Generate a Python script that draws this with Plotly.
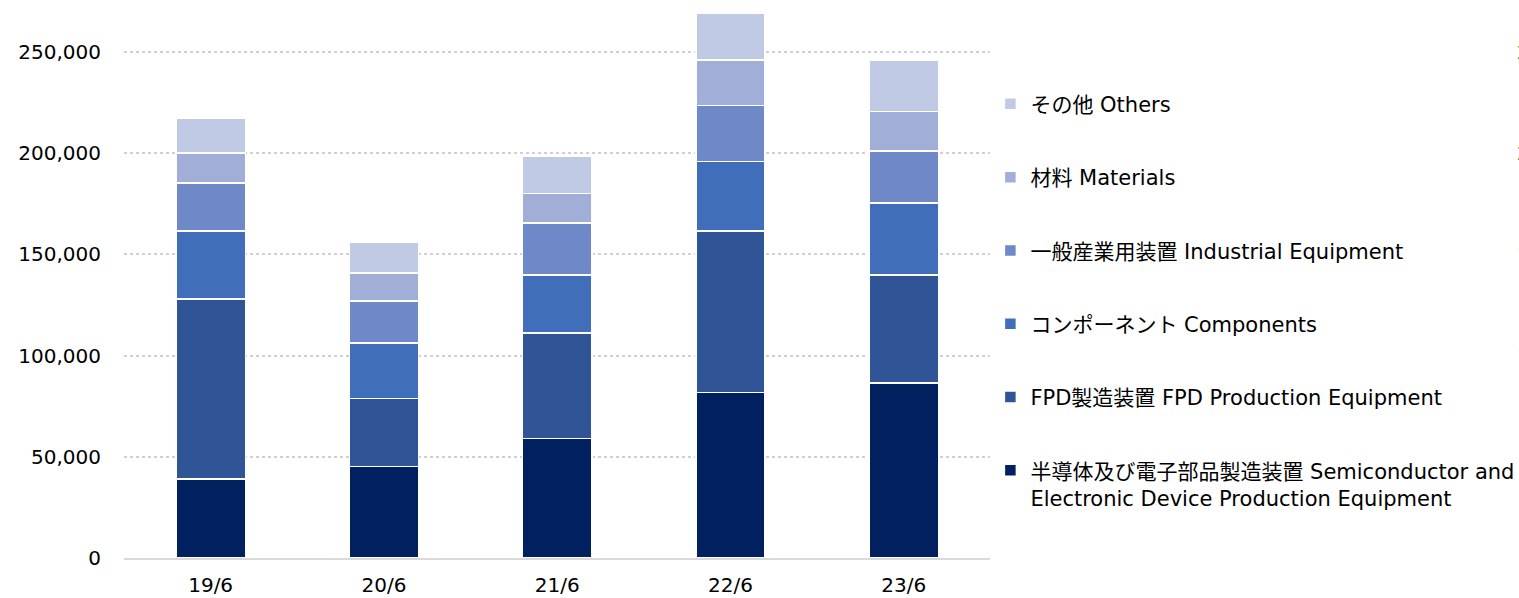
import plotly.graph_objects as go

# fiscal periods on the x axis
periods = ["19/6", "20/6", "21/6", "22/6", "23/6"]

# segment values (bottom to top)
semiconductor = [39100, 45200, 59000, 81800, 86500]
fpd = [88800, 33500, 52100, 79800, 53400]
components = [33600, 27400, 28800, 34400, 35400]
industrial = [23700, 20800, 25500, 27600, 25700]
materials = [14800, 13800, 14800, 22400, 19600]
others = [17300, 15300, 18300, 23300, 25200]

y_ticks = [0, 50000, 100000, 150000, 200000, 250000]
y_tick_text = ["0", "50,000", "100,000", "150,000", "200,000", "250,000"]

# labels of the right-hand axis that is cut off at the edge of the image
right_ticks = [250000, 200000, 150000, 100000]
right_tick_text = ["25", "20", "15", "10"]

series = [
    ("半導体及び電子部品製造装置 Semiconductor and<br>Electronic Device Production Equipment",
     semiconductor, "#002060"),
    ("FPD製造装置 FPD Production Equipment", fpd, "#2F5597"),
    ("コンポーネント Components", components, "#406EBB"),
    ("一般産業用装置 Industrial Equipment", industrial, "#6E88C8"),
    ("材料 Materials", materials, "#A0AED8"),
    ("その他 Others", others, "#C1CAE4"),
]

font_family = "DejaVu Sans, Noto Sans CJK JP, sans-serif"

fig = go.Figure()
for i, (name, values, color) in enumerate(series):
    fig.add_trace(go.Bar(
        x=periods,
        y=values,
        name=name,
        legendgroup=str(i),
        legendrank=len(series) - i,
        marker=dict(color=color, line=dict(color="white", width=1.5)),
    ))

for val, txt in zip(right_ticks, right_tick_text):
    fig.add_annotation(x=1.605, xref="paper", y=val, yref="y", text=txt,
                       showarrow=False, xanchor="left",
                       font=dict(size=20, color="#000000"))

fig.update_layout(
    width=1519,
    height=598,
    barmode="stack",
    bargap=0.6,
    plot_bgcolor="white",
    paper_bgcolor="white",
    font=dict(family=font_family, size=20, color="#000000"),
    margin=dict(l=124, r=528, t=5, b=40),
    legend=dict(
        traceorder="grouped",
        tracegroupgap=43,
        x=0.652, xref="container", xanchor="left",
        y=0.860, yref="container", yanchor="top",
        valign="top",
        font=dict(size=21),
        itemwidth=30,
        maxheight=560,
    ),
    showlegend=True,
)

fig.update_xaxes(
    showline=True, linecolor="#D9D9D9", linewidth=2,
    showgrid=False, ticks="", ticklabelstandoff=8, automargin=False,
)
fig.update_yaxes(
    range=[0, 273200],
    tickvals=y_ticks, ticktext=y_tick_text,
    showgrid=True, gridcolor="#D0D0D0", griddash="dot", gridwidth=1.5,
    zeroline=False, showline=False, ticks="",
    ticklabelstandoff=22, automargin=False,
)

# the page's default body margin would shift the chart, so drop it
fig.write_html("out.html", config={"displayModeBar": False},
               post_script="document.body.style.margin='0';")
